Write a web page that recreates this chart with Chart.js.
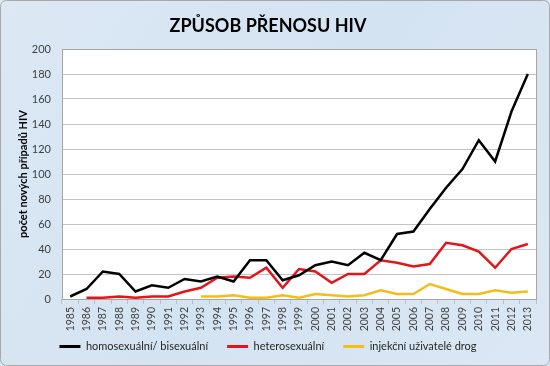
<!DOCTYPE html>
<html>
<head>
<meta charset="utf-8">
<script src="https://cdn.jsdelivr.net/npm/chart.js@4/dist/chart.umd.min.js"></script>
<style>
  body { margin: 0; background: #fff; }
  canvas { display: block; }
</style>
</head>
<body>
<canvas id="hivChart" width="550" height="366"></canvas>
<script>
"use strict";

var years = ['1985','1986','1987','1988','1989','1990','1991','1992','1993','1994',
             '1995','1996','1997','1998','1999','2000','2001','2002','2003','2004',
             '2005','2006','2007','2008','2009','2010','2011','2012','2013'];

var homoBi = [2, 8, 22, 20, 6, 11, 9, 16, 14, 18,
              14, 31, 31, 15, 19, 27, 30, 27, 37, 31,
              52, 54, 72, 89, 104, 127, 110, 150, 180];

var hetero = [null, 1, 1, 2, 1, 2, 2, 6, 9, 17,
              18, 17, 25, 9, 24, 22, 13, 20, 20, 31,
              29, 26, 28, 45, 43, 38, 25, 40, 44];

var drugs = [null, null, null, null, null, null, null, null, 2, 2,
             3, 1, 1, 3, 1, 4, 3, 2, 3, 7,
             4, 4, 12, 8, 4, 4, 7, 5, 6];

var seriesNames = ['homosexuální/ bisexuální', 'heterosexuální', 'injekční uživatelé drog'];
var seriesColors = ['#000000', '#e3151b', '#f4bd17'];

var FONT = 'Lato, "Open Sans", sans-serif';

// background: light blue panel, white plot area with grey frame
var panelPlugin = {
    id: 'panel',
    beforeDraw: function(chart) {
        var c = chart.ctx, a = chart.chartArea;
        c.save();
        var g = c.createLinearGradient(0, 0, 550, 366);
        g.addColorStop(0, '#dce8f4');
        g.addColorStop(0.5, '#d4e3f2');
        g.addColorStop(1, '#dbe7f4');
        c.fillStyle = g;
        c.fillRect(0, 0, chart.width, chart.height);
        c.strokeStyle = '#a9a9a9';
        c.lineWidth = 1;
        c.beginPath();
        c.roundRect(0.5, 0.5, chart.width - 1, chart.height - 1, 6);
        c.stroke();
        c.fillStyle = '#ffffff';
        c.fillRect(a.left, a.top, a.right - a.left, a.bottom - a.top);
        c.restore();
    },
    afterDatasetsDraw: function(chart) {
        var c = chart.ctx, a = chart.chartArea;
        c.save();
        c.strokeStyle = '#a6a6a6';
        c.lineWidth = 1;
        c.strokeRect(Math.round(a.left) + 0.5, Math.round(a.top) + 0.5,
                     Math.round(a.right - a.left), Math.round(a.bottom - a.top));
        c.restore();
    }
};

var data = [homoBi, hetero, drugs];

new Chart(document.getElementById('hivChart'), {
    type: 'line',
    data: {
        labels: years,
        datasets: data.map(function(d, i) {
            return {
                label: seriesNames[i],
                data: d,
                borderColor: seriesColors[i],
                backgroundColor: seriesColors[i],
                borderWidth: 2.5,
                pointRadius: 0,
                tension: 0,
                fill: false
            };
        })
    },
    options: {
        responsive: false,
        animation: false,
        layout: { padding: { left: 0, right: 14, top: 0, bottom: 4 } },
        plugins: {
            title: {
                display: true,
                text: 'ZPŮSOB PŘENOSU HIV',
                color: '#000',
                font: { family: FONT, size: 18, weight: 'bold', lineHeight: 1.2 },
                padding: { top: 15, bottom: 12.4 }
            },
            legend: {
                position: 'bottom',
                labels: {
                    color: '#262626',
                    font: { family: FONT, size: 11 },
                    boxWidth: 21,
                    boxHeight: 3,
                    padding: 8,
                    generateLabels: function(chart) {
                        var items = Chart.defaults.plugins.legend.labels.generateLabels(chart);
                        return items.map(function(it, i) {
                            it.lineWidth = 0;
                            it.fillStyle = it.strokeStyle;
                            // wider gap between the legend entries
                            if (i < items.length - 1) it.text = it.text + '\u2002\u2002';
                            return it;
                        });
                    }
                }
            },
            tooltip: { enabled: false }
        },
        scales: {
            x: {
                offset: true,
                grid: { offset: true, drawOnChartArea: false, color: '#bfbfbf', tickLength: 5 },
                border: { display: false },
                ticks: {
                    color: '#404040',
                    font: { family: FONT, size: 10.5 },
                    minRotation: 90,
                    maxRotation: 90,
                    autoSkip: false,
                    padding: 3
                },
                afterFit: function(s) { s.height = 34; }
            },
            y: {
                min: 0,
                max: 200,
                ticks: {
                    stepSize: 20,
                    color: '#404040',
                    font: { family: FONT, size: 11 },
                    padding: 11
                },
                grid: { color: '#c4c4c4', drawTicks: false },
                border: { display: false },
                title: {
                    display: true,
                    text: 'počet nových případů HIV',
                    color: '#000',
                    font: { family: FONT, size: 11, weight: 'bold', lineHeight: 1.2 },
                    padding: { top: 17, bottom: 0 }
                },
                afterFit: function(s) { s.width = 62; }
            }
        }
    },
    plugins: [panelPlugin]
});
</script>
</body>
</html>
